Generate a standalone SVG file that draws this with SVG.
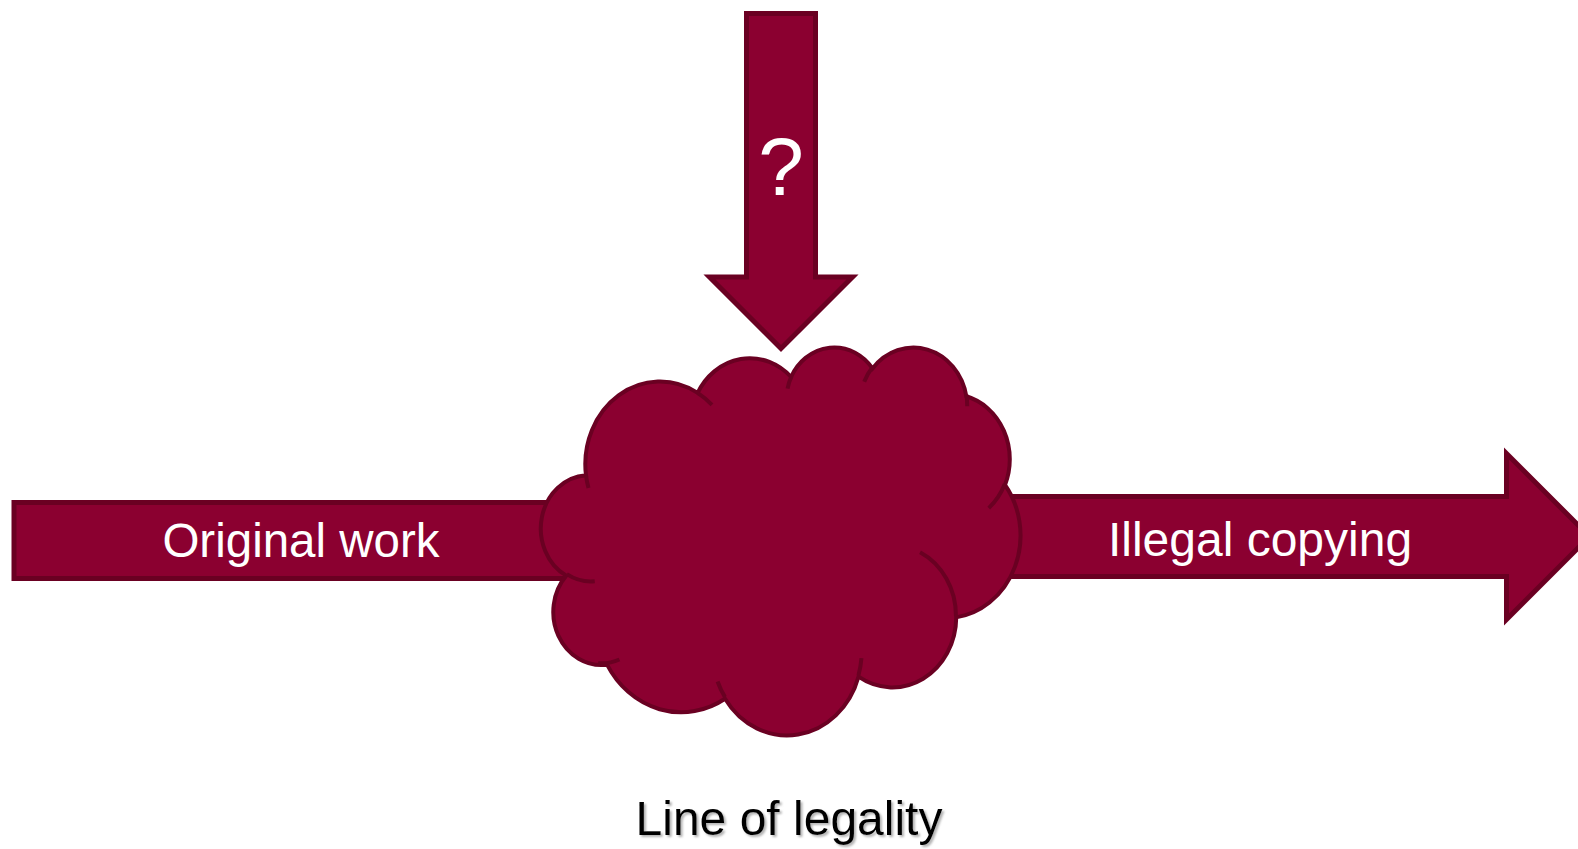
<svg xmlns="http://www.w3.org/2000/svg" width="1578" height="849" viewBox="0 0 1578 849">
  <defs>
    <style>
      .shape { fill: #8B0030; stroke: #6A0022; stroke-width: 5; stroke-linejoin: miter; }
      .cloud { fill: #8B0030; stroke: #6A0022; stroke-width: 4; vector-effect: non-scaling-stroke; }
      .cloud-line { fill: none; stroke: #6A0022; stroke-width: 4; vector-effect: non-scaling-stroke; }
      .label { font-family: "Liberation Sans", Arial, sans-serif; font-size: 47.5px; fill: #FFFFFF; text-anchor: middle; }
      .caption { font-family: "Liberation Sans", Arial, sans-serif; font-size: 48px; fill: #000000; text-anchor: middle; }
    </style>
    <filter id="softShadow" x="-5%" y="-20%" width="110%" height="140%">
      <feDropShadow dx="2" dy="2" stdDeviation="1.2" flood-color="#808080" flood-opacity="0.6"/>
    </filter>
  </defs>

  <rect width="1578" height="849" fill="#FFFFFF"/>

  <!-- Connectors: input bar, output arrow and the question arrow -->
  <g id="connectors">
    <g id="original-work">
      <rect class="shape" x="14" y="502.5" width="700" height="76"/>
      <text class="label" x="301" y="557">Original work</text>
    </g>
    <g id="illegal-copying">
      <polygon class="shape" points="900,496.5 1506.5,496.5 1506.5,453.5 1589.5,536.5 1506.5,619.5 1506.5,576.5 900,576.5"/>
      <text class="label" x="1260" y="556" style="font-size:48px">Illegal copying</text>
    </g>
    <g id="question">
      <polygon class="shape" points="746.5,13.5 815.5,13.5 815.5,277 852.5,277 781,348.5 709.5,277 746.5,277"/>
      <text class="label" x="781" y="195" style="font-size:82px">?</text>
    </g>
  </g>

  <!-- Cloud node, drawn in a 43200 unit box and scaled into place -->
  <g id="cloud" transform="translate(542.9,346.2) scale(0.01105,0.008978)">
    <path class="cloud" d="M3900 14370
      A6753 9190 0 0 1 14006 5203
      A5333 7267 0 0 1 22458 3432
      A4365 5945 0 0 1 29835 2480
      A4857 6595 0 0 1 38320 5575
      A5333 7273 0 0 1 41821 15459
      A6775 9220 0 0 1 37407 30204
      A5785 7867 0 0 1 28559 36814
      A6752 9215 0 0 1 16484 39267
      A7720 10543 0 0 1 5808 35472
      A4360 5918 0 0 1 2114 25554
      A4345 5945 0 0 1 3900 14370 Z"/>
    <path class="cloud-line" d="M4693 26177 A4345 5945 0 0 1 2159 25379
      M6928 34899 A4360 5918 0 0 1 4995 35306
      M16478 39090 A6752 9215 0 0 1 15809 37348
      M28827 34751 A6752 9215 0 0 1 28560 36660
      M34129 22954 A5785 7867 0 0 1 37380 30089
      M41798 15354 A5333 7273 0 0 1 40349 18031
      M38324 5426 A4857 6595 0 0 1 38400 6690
      M29078 3952 A4857 6595 0 0 1 29820 2340
      M22141 4720 A4365 5945 0 0 1 22500 3331
      M14000 5192 A6753 9190 0 0 1 15300 6541
      M4127 15789 A6753 9190 0 0 1 3900 14371"/>
  </g>

  <g id="line-of-legality">
    <text class="caption" x="789" y="835" filter="url(#softShadow)">Line of legality</text>
  </g>
</svg>
